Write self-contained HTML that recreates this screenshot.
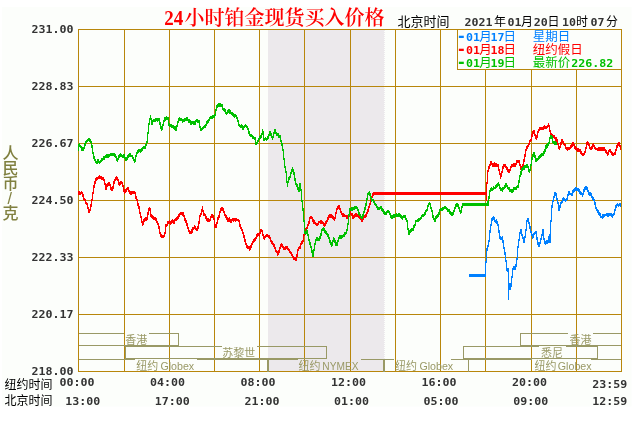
<!DOCTYPE html>
<html lang="zh-CN"><head><meta charset="utf-8"><title>24小时铂金现货买入价格</title>
<style>html,body{margin:0;padding:0;background:#fff;}body{width:640px;height:428px;overflow:hidden;}svg{display:block;}.n{font-family:"DejaVu Sans Mono","Liberation Mono","Noto Sans CJK SC",monospace;font-weight:bold;font-size:11px;fill:#333333;}.c{font-family:"Liberation Sans","Noto Sans CJK SC",sans-serif;font-size:12px;font-weight:normal;letter-spacing:0;}.t{font-family:"Liberation Serif","Noto Serif CJK SC",serif;font-weight:bold;font-size:20px;fill:#ff0000;}</style></head><body>
<svg width="640" height="428" viewBox="0 0 640 428">
<rect x="0" y="0" width="640" height="428" fill="#ffffff"/>
<rect x="2" y="7" width="629.5" height="399.5" fill="#fcfefb"/>
<rect x="268" y="30" width="116" height="341" fill="#ece9ec"/>
<path d="M384.5 30V371" stroke="#ece9ec" stroke-width="1" stroke-dasharray="1 1" fill="none" shape-rendering="crispEdges"/>
<g shape-rendering="crispEdges">
<rect x="78" y="29" width="1" height="343" fill="#b8860b"/>
<rect x="124" y="29" width="1" height="343" fill="#b8860b"/>
<rect x="169" y="29" width="1" height="343" fill="#b8860b"/>
<rect x="214" y="29" width="1" height="343" fill="#b8860b"/>
<rect x="259" y="29" width="1" height="343" fill="#b8860b"/>
<rect x="304" y="29" width="1" height="343" fill="#b8860b"/>
<rect x="350" y="29" width="1" height="343" fill="#b8860b"/>
<rect x="395" y="29" width="1" height="343" fill="#b8860b"/>
<rect x="440" y="29" width="1" height="343" fill="#b8860b"/>
<rect x="485" y="29" width="1" height="343" fill="#b8860b"/>
<rect x="531" y="29" width="1" height="343" fill="#b8860b"/>
<rect x="576" y="29" width="1" height="343" fill="#b8860b"/>
<rect x="621" y="29" width="1" height="343" fill="#b8860b"/>
<rect x="78" y="29" width="544" height="1" fill="#b8860b"/>
<rect x="78" y="86" width="544" height="1" fill="#b8860b"/>
<rect x="78" y="143" width="544" height="1" fill="#b8860b"/>
<rect x="78" y="200" width="544" height="1" fill="#b8860b"/>
<rect x="78" y="257" width="544" height="1" fill="#b8860b"/>
<rect x="78" y="314" width="544" height="1" fill="#b8860b"/>
<rect x="78" y="371" width="544" height="1" fill="#b8860b"/>
<rect x="458" y="30" width="163" height="39" fill="#fcfefb"/>
<rect x="457" y="29" width="1" height="41" fill="#b8860b"/>
<rect x="457" y="69" width="165" height="1" fill="#b8860b"/>
<rect x="79" y="333" width="45" height="1" fill="#999966"/>
<rect x="149" y="333" width="30" height="1" fill="#999966"/>
<rect x="178" y="333" width="1" height="13" fill="#999966"/>
<rect x="79" y="345" width="100" height="1" fill="#999966"/>
<rect x="125" y="346" width="1" height="13" fill="#999966"/>
<rect x="125" y="346" width="97" height="1" fill="#999966"/>
<rect x="257" y="346" width="70" height="1" fill="#999966"/>
<rect x="326" y="346" width="1" height="13" fill="#999966"/>
<rect x="125" y="358" width="202" height="1" fill="#999966"/>
<rect x="79" y="359" width="56" height="1" fill="#999966"/>
<rect x="197" y="359" width="71" height="1" fill="#999966"/>
<rect x="267" y="359" width="2" height="13" fill="#999966"/>
<rect x="268" y="359" width="30" height="1" fill="#999966"/>
<rect x="361" y="359" width="24" height="1" fill="#999966"/>
<rect x="383" y="359" width="1" height="13" fill="#999966"/>
<rect x="384" y="359" width="1" height="13" fill="#999966"/>
<rect x="384" y="359" width="10" height="1" fill="#999966"/>
<rect x="451" y="359" width="18" height="1" fill="#999966"/>
<rect x="468" y="359" width="1" height="13" fill="#999966"/>
<rect x="463" y="346" width="1" height="13" fill="#999966"/>
<rect x="463" y="346" width="76" height="1" fill="#999966"/>
<rect x="566" y="346" width="32" height="1" fill="#999966"/>
<rect x="597" y="346" width="1" height="13" fill="#999966"/>
<rect x="463" y="358" width="135" height="1" fill="#999966"/>
<rect x="520" y="333" width="1" height="13" fill="#999966"/>
<rect x="520" y="333" width="48" height="1" fill="#999966"/>
<rect x="593" y="333" width="28" height="1" fill="#999966"/>
<rect x="520" y="345" width="101" height="1" fill="#999966"/>
<rect x="468" y="359" width="64" height="1" fill="#999966"/>
<rect x="591" y="359" width="30" height="1" fill="#999966"/>
<path d="M485.5 261v15M486.5 248v15M487.5 245v6M488.5 240v7M489.5 230v12M490.5 224v9M491.5 218v8M492.5 217v4M493.5 216v4M494.5 217v5M495.5 220v3M496.5 219v5M497.5 221v5M498.5 224v9M499.5 230v9M500.5 236v4M501.5 237v3M502.5 236v7M503.5 240v9M504.5 247v8M505.5 252v10M506.5 260v11M507.5 268v4M508.5 268v32M509.5 283v7M510.5 283v7M511.5 276v11M512.5 268v10M513.5 266v4M514.5 266v4M515.5 264v6M516.5 258v9M517.5 246v14M518.5 239v9M519.5 232v9M520.5 229v5M521.5 229v7M522.5 234v5M523.5 237v6M524.5 236v7M525.5 229v9M526.5 220v11M527.5 218v4M528.5 218v6M529.5 222v7M530.5 226v7M531.5 231v5M532.5 234v5M533.5 233v5M534.5 232v3M535.5 231v3M536.5 231v9M537.5 237v8M538.5 242v5M539.5 242v5M540.5 238v6M541.5 234v6M542.5 229v7M543.5 229v11M544.5 238v6M545.5 241v4M546.5 240v4M547.5 240v4M548.5 236v7M549.5 234v9M550.5 220v23M551.5 205v17M552.5 200v8M553.5 196v6M554.5 192v6M555.5 192v4M556.5 193v7M557.5 198v6M558.5 202v9M559.5 205v6M560.5 202v6M561.5 201v3M562.5 198v5M563.5 197v4M564.5 198v3M565.5 199v3M566.5 198v3M567.5 194v6M568.5 191v5M569.5 191v4M570.5 193v2M571.5 193v3M572.5 190v6M573.5 189v4M574.5 188v4M575.5 187v4M576.5 187v4M577.5 188v3M578.5 188v4M579.5 189v5M580.5 191v4M581.5 192v3M582.5 193v4M583.5 189v6M584.5 187v5M585.5 186v4M586.5 186v4M587.5 187v5M588.5 190v5M589.5 192v4M590.5 192v4M591.5 193v5M592.5 196v4M593.5 197v4M594.5 199v6M595.5 202v7M596.5 207v4M597.5 209v4M598.5 210v5M599.5 212v4M600.5 213v5M601.5 216v2M602.5 214v5M603.5 214v4M604.5 214v3M605.5 214v2M606.5 213v3M607.5 213v4M608.5 213v4M609.5 213v3M610.5 213v3M611.5 213v4M612.5 214v4M613.5 213v3M614.5 209v6M615.5 205v6M616.5 204v4M617.5 203v3M618.5 204v3M619.5 203v3M620.5 203v4M621.5 203v4" fill="none" stroke="#0080ff" stroke-width="1"/>
<rect x="469" y="274" width="17" height="3" fill="#0080ff"/>
<path d="M78.5 191v4M79.5 191v4M80.5 192v3M81.5 191v3M82.5 192v5M83.5 194v6M84.5 198v3M85.5 199v5M86.5 202v3M87.5 203v6M88.5 207v6M89.5 209v4M90.5 204v7M91.5 199v8M92.5 192v9M93.5 185v9M94.5 181v7M95.5 178v6M96.5 177v4M97.5 177v3M98.5 176v3M99.5 175v4M100.5 176v3M101.5 176v4M102.5 177v3M103.5 177v4M104.5 179v6M105.5 183v7M106.5 184v6M107.5 183v4M108.5 182v4M109.5 182v4M110.5 184v6M111.5 187v4M112.5 186v5M113.5 181v8M114.5 179v5M115.5 177v4M116.5 176v4M117.5 177v4M118.5 179v6M119.5 182v4M120.5 181v4M121.5 181v3M122.5 182v5M123.5 185v7M124.5 189v5M125.5 189v4M126.5 188v4M127.5 187v3M128.5 187v5M129.5 190v4M130.5 191v4M131.5 191v4M132.5 191v3M133.5 191v3M134.5 191v3M135.5 192v7M136.5 196v5M137.5 199v7M138.5 203v6M139.5 206v8M140.5 212v6M141.5 216v7M142.5 221v5M143.5 219v6M144.5 218v4M145.5 217v4M146.5 217v4M147.5 212v8M148.5 208v7M149.5 207v4M150.5 208v9M151.5 214v4M152.5 215v4M153.5 216v4M154.5 217v3M155.5 217v4M156.5 218v5M157.5 221v4M158.5 223v6M159.5 226v8M160.5 232v5M161.5 234v4M162.5 235v3M163.5 235v3M164.5 232v5M165.5 224v10M166.5 224v3M167.5 221v5M168.5 221v3M169.5 220v4M170.5 221v4M171.5 220v4M172.5 219v4M173.5 220v4M174.5 219v5M175.5 218v3M176.5 217v4M177.5 216v4M178.5 214v5M179.5 213v4M180.5 212v3M181.5 212v3M182.5 212v4M183.5 212v5M184.5 215v6M185.5 218v5M186.5 220v6M187.5 223v6M188.5 227v5M189.5 230v4M190.5 231v3M191.5 229v5M192.5 227v6M193.5 227v3M194.5 225v4M195.5 226v4M196.5 228v3M197.5 226v5M198.5 221v8M199.5 215v9M200.5 213v4M201.5 209v6M202.5 206v6M203.5 210v6M204.5 213v3M205.5 214v5M206.5 216v5M207.5 218v4M208.5 218v4M209.5 219v3M210.5 216v5M211.5 214v4M212.5 214v4M213.5 215v5M214.5 218v10M215.5 224v4M216.5 222v6M217.5 217v7M218.5 215v5M219.5 211v7M220.5 208v5M221.5 207v4M222.5 207v4M223.5 208v5M224.5 211v5M225.5 214v4M226.5 215v5M227.5 217v5M228.5 218v4M229.5 217v5M230.5 219v4M231.5 219v4M232.5 218v3M233.5 218v4M234.5 218v3M235.5 218v4M236.5 218v3M237.5 219v2M238.5 219v3M239.5 220v7M240.5 224v5M241.5 227v4M242.5 229v5M243.5 232v6M244.5 235v7M245.5 239v6M246.5 243v5M247.5 245v4M248.5 246v3M249.5 246v5M250.5 245v5M251.5 243v5M252.5 241v4M253.5 239v4M254.5 238v4M255.5 237v4M256.5 234v5M257.5 233v4M258.5 233v3M259.5 232v5M260.5 229v5M261.5 229v3M262.5 230v6M263.5 234v5M264.5 236v4M265.5 235v3M266.5 234v3M267.5 234v3M268.5 235v3M269.5 235v4M270.5 237v5M271.5 240v4M272.5 241v4M273.5 243v4M274.5 244v5M275.5 247v5M276.5 250v3M277.5 251v5M278.5 250v5M279.5 247v6M280.5 244v5M281.5 243v4M282.5 244v4M283.5 246v4M284.5 247v3M285.5 246v4M286.5 246v3M287.5 246v4M288.5 248v3M289.5 249v4M290.5 251v3M291.5 252v4M292.5 254v4M293.5 256v4M294.5 257v3M295.5 257v4M296.5 254v7M297.5 249v8M298.5 247v4M299.5 246v3M300.5 243v6M301.5 241v4M302.5 240v4M303.5 234v8M304.5 230v6M305.5 228v5M306.5 227v4M307.5 224v5M308.5 221v5M309.5 217v7M310.5 216v3M311.5 216v3M312.5 217v5M313.5 219v5M314.5 220v4M315.5 222v3M316.5 223v3M317.5 223v3M318.5 221v4M319.5 221v2M320.5 220v4M321.5 220v4M322.5 221v3M323.5 222v4M324.5 223v4M325.5 221v5M326.5 220v4M327.5 217v5M328.5 215v5M329.5 214v4M330.5 214v4M331.5 214v4M332.5 215v4M333.5 216v4M334.5 217v4M335.5 212v7M336.5 208v6M337.5 206v4M338.5 205v4M339.5 205v5M340.5 208v5M341.5 211v4M342.5 213v4M343.5 213v4M344.5 214v3M345.5 215v2M346.5 215v4M347.5 215v4M348.5 214v3M349.5 212v5M350.5 211v4M351.5 213v3M352.5 213v6M353.5 215v4M354.5 214v4M355.5 213v4M356.5 213v4M357.5 214v3M358.5 215v3M359.5 215v4M360.5 216v4M361.5 218v4M362.5 217v5M363.5 216v4M364.5 215v3M365.5 214v4M366.5 212v5M367.5 209v5M368.5 206v6M369.5 203v5M370.5 199v6M371.5 196v5M372.5 193v5M373.5 192v4" fill="none" stroke="#ff0000" stroke-width="1"/>
<rect x="373" y="192" width="114" height="3" fill="#ff0000"/>
<path d="M486.5 182v19M487.5 170v14M488.5 166v6M489.5 164v5M490.5 161v5M491.5 161v4M492.5 163v4M493.5 163v4M494.5 162v5M495.5 163v4M496.5 163v4M497.5 164v3M498.5 164v7M499.5 169v6M500.5 173v6M501.5 171v6M502.5 166v7M503.5 164v5M504.5 164v3M505.5 164v4M506.5 166v4M507.5 167v5M508.5 169v4M509.5 169v4M510.5 166v5M511.5 164v4M512.5 164v3M513.5 163v4M514.5 163v4M515.5 163v4M516.5 160v5M517.5 160v3M518.5 160v3M519.5 160v6M520.5 164v6M521.5 166v4M522.5 164v5M523.5 159v7M524.5 154v8M525.5 149v8M526.5 146v5M527.5 145v4M528.5 143v4M529.5 140v5M530.5 139v3M531.5 134v7M532.5 131v6M533.5 130v4M534.5 130v6M535.5 134v5M536.5 135v5M537.5 131v7M538.5 129v4M539.5 127v4M540.5 127v3M541.5 127v3M542.5 127v3M543.5 126v4M544.5 125v4M545.5 126v3M546.5 126v3M547.5 125v3M548.5 123v4M549.5 125v7M550.5 130v6M551.5 133v3M552.5 134v4M553.5 135v3M554.5 135v4M555.5 137v4M556.5 137v5M557.5 139v6M558.5 143v6M559.5 146v4M560.5 142v6M561.5 139v6M562.5 139v4M563.5 141v4M564.5 143v3M565.5 144v5M566.5 147v3M567.5 147v4M568.5 147v3M569.5 147v3M570.5 145v4M571.5 144v4M572.5 142v5M573.5 142v4M574.5 144v5M575.5 146v4M576.5 147v4M577.5 148v4M578.5 148v4M579.5 149v3M580.5 149v5M581.5 151v4M582.5 153v3M583.5 153v3M584.5 151v4M585.5 147v6M586.5 142v7M587.5 141v4M588.5 142v4M589.5 144v5M590.5 147v3M591.5 146v4M592.5 144v5M593.5 143v4M594.5 145v4M595.5 147v3M596.5 148v2M597.5 148v3M598.5 147v4M599.5 147v4M600.5 147v4M601.5 147v4M602.5 147v4M603.5 147v4M604.5 147v4M605.5 149v4M606.5 150v4M607.5 152v4M608.5 150v5M609.5 149v3M610.5 149v4M611.5 151v4M612.5 152v4M613.5 153v3M614.5 152v3M615.5 149v6M616.5 145v6M617.5 143v5M618.5 142v4M619.5 142v5M620.5 145v5M621.5 146v4" fill="none" stroke="#ff0000" stroke-width="1"/>
<path d="M78.5 144v7M79.5 143v4M80.5 145v3M81.5 146v5M82.5 147v4M83.5 147v4M84.5 143v6M85.5 141v5M86.5 140v3M87.5 139v3M88.5 138v3M89.5 138v4M90.5 139v4M91.5 141v7M92.5 145v9M93.5 152v7M94.5 156v5M95.5 159v4M96.5 161v3M97.5 159v5M98.5 159v4M99.5 161v3M100.5 160v3M101.5 158v4M102.5 158v3M103.5 156v4M104.5 156v4M105.5 155v3M106.5 154v4M107.5 154v4M108.5 154v4M109.5 154v3M110.5 153v3M111.5 153v3M112.5 153v3M113.5 153v3M114.5 153v4M115.5 154v4M116.5 156v5M117.5 158v4M118.5 155v5M119.5 154v4M120.5 153v4M121.5 154v3M122.5 155v3M123.5 154v4M124.5 154v5M125.5 157v4M126.5 157v4M127.5 155v5M128.5 154v4M129.5 153v4M130.5 153v4M131.5 155v2M132.5 155v4M133.5 157v4M134.5 159v4M135.5 155v7M136.5 152v5M137.5 150v4M138.5 149v4M139.5 149v3M140.5 149v4M141.5 148v4M142.5 147v4M143.5 146v3M144.5 146v3M145.5 144v5M146.5 141v5M147.5 132v11M148.5 123v11M149.5 118v7M150.5 115v5M151.5 118v7M152.5 120v5M153.5 119v3M154.5 119v3M155.5 118v4M156.5 118v3M157.5 118v4M158.5 118v3M159.5 118v7M160.5 122v7M161.5 126v5M162.5 124v6M163.5 120v6M164.5 117v5M165.5 117v4M166.5 116v4M167.5 117v3M168.5 117v9M169.5 123v4M170.5 124v3M171.5 124v4M172.5 125v3M173.5 125v4M174.5 126v4M175.5 126v5M176.5 125v6M177.5 121v6M178.5 118v5M179.5 117v4M180.5 118v3M181.5 118v3M182.5 119v4M183.5 119v3M184.5 118v4M185.5 118v3M186.5 117v4M187.5 117v4M188.5 119v4M189.5 119v4M190.5 120v5M191.5 121v4M192.5 121v3M193.5 121v4M194.5 121v4M195.5 120v5M196.5 119v3M197.5 119v4M198.5 120v3M199.5 120v8M200.5 126v5M201.5 128v3M202.5 127v3M203.5 126v3M204.5 125v3M205.5 124v4M206.5 121v5M207.5 120v4M208.5 119v4M209.5 117v4M210.5 116v3M211.5 116v3M212.5 115v4M213.5 115v3M214.5 114v4M215.5 109v7M216.5 105v6M217.5 104v4M218.5 103v4M219.5 103v4M220.5 103v4M221.5 104v3M222.5 104v6M223.5 108v3M224.5 108v4M225.5 109v5M226.5 112v3M227.5 110v4M228.5 109v4M229.5 109v5M230.5 110v4M231.5 112v3M232.5 112v4M233.5 113v4M234.5 114v4M235.5 114v3M236.5 115v4M237.5 117v5M238.5 120v6M239.5 124v3M240.5 125v3M241.5 124v4M242.5 125v5M243.5 126v4M244.5 125v3M245.5 124v3M246.5 125v3M247.5 126v4M248.5 128v6M249.5 131v5M250.5 134v3M251.5 134v3M252.5 135v4M253.5 136v3M254.5 137v3M255.5 137v8M256.5 142v3M257.5 140v4M258.5 138v4M259.5 136v4M260.5 135v4M261.5 133v5M262.5 129v6M263.5 131v10M264.5 138v3M265.5 137v3M266.5 138v3M267.5 136v4M268.5 134v5M269.5 131v5M270.5 131v5M271.5 133v5M272.5 136v4M273.5 132v6M274.5 129v5M275.5 129v5M276.5 132v4M277.5 133v3M278.5 133v5M279.5 135v3M280.5 135v7M281.5 140v6M282.5 143v8M283.5 149v11M284.5 158v10M285.5 166v7M286.5 171v12M287.5 181v6M288.5 177v6M289.5 176v4M290.5 172v6M291.5 169v5M292.5 167v5M293.5 169v6M294.5 172v9M295.5 178v7M296.5 183v4M297.5 184v6M298.5 187v5M299.5 183v9M300.5 183v8M301.5 189v13M302.5 200v11M303.5 208v14M304.5 220v14M305.5 231v4M306.5 229v5M307.5 230v6M308.5 234v7M309.5 239v6M310.5 242v6M311.5 246v7M312.5 250v7M313.5 249v8M314.5 243v8M315.5 239v6M316.5 237v4M317.5 237v4M318.5 238v3M319.5 236v5M320.5 233v6M321.5 229v7M322.5 228v3M323.5 227v4M324.5 228v5M325.5 230v4M326.5 231v4M327.5 233v4M328.5 234v5M329.5 237v6M330.5 240v5M331.5 242v5M332.5 240v6M333.5 237v5M334.5 238v5M335.5 240v6M336.5 242v4M337.5 240v6M338.5 237v5M339.5 235v4M340.5 235v4M341.5 235v4M342.5 235v3M343.5 234v3M344.5 232v5M345.5 232v3M346.5 229v5M347.5 223v8M348.5 214v11M349.5 208v8M350.5 208v3M351.5 207v4M352.5 207v4M353.5 207v3M354.5 206v4M355.5 206v3M356.5 206v3M357.5 207v4M358.5 209v6M359.5 212v4M360.5 214v4M361.5 216v3M362.5 214v5M363.5 211v6M364.5 207v6M365.5 203v7M366.5 198v8M367.5 193v7M368.5 192v3M369.5 191v5M370.5 193v6M371.5 197v5M372.5 199v2M373.5 199v4M374.5 201v4M375.5 203v3M376.5 204v4M377.5 206v4M378.5 207v3M379.5 207v3M380.5 206v3M381.5 206v5M382.5 208v4M383.5 209v5M384.5 211v4M385.5 212v3M386.5 211v4M387.5 210v3M388.5 210v3M389.5 211v4M390.5 213v5M391.5 215v4M392.5 215v4M393.5 214v4M394.5 214v4M395.5 214v3M396.5 213v4M397.5 214v3M398.5 213v4M399.5 213v4M400.5 214v4M401.5 215v4M402.5 216v4M403.5 215v3M404.5 215v3M405.5 215v5M406.5 218v4M407.5 220v10M408.5 228v7M409.5 230v5M410.5 229v4M411.5 228v4M412.5 228v3M413.5 225v6M414.5 224v4M415.5 220v6M416.5 220v2M417.5 219v3M418.5 218v4M419.5 218v3M420.5 217v3M421.5 215v4M422.5 214v3M423.5 214v3M424.5 212v4M425.5 210v5M426.5 209v3M427.5 205v6M428.5 203v4M429.5 202v3M430.5 203v6M431.5 207v5M432.5 210v8M433.5 215v5M434.5 218v4M435.5 216v6M436.5 215v4M437.5 214v4M438.5 212v5M439.5 209v6M440.5 208v3M441.5 208v3M442.5 207v4M443.5 207v3M444.5 206v3M445.5 206v3M446.5 207v3M447.5 208v4M448.5 209v3M449.5 209v5M450.5 211v4M451.5 212v4M452.5 212v4M453.5 210v5M454.5 207v5M455.5 204v5M456.5 203v4M457.5 203v4M458.5 204v5M459.5 207v5M460.5 210v4M461.5 206v7M462.5 203v5" fill="none" stroke="#00c000" stroke-width="1"/>
<rect x="462" y="203" width="27" height="3" fill="#00c000"/>
<path d="M487.5 201v5M488.5 196v7M489.5 190v9M490.5 188v4M491.5 187v4M492.5 188v3M493.5 186v4M494.5 187v2M495.5 185v4M496.5 184v4M497.5 183v4M498.5 182v4M499.5 184v5M500.5 187v4M501.5 188v3M502.5 187v5M503.5 187v3M504.5 185v4M505.5 183v5M506.5 183v4M507.5 185v4M508.5 187v3M509.5 187v5M510.5 189v3M511.5 189v4M512.5 189v4M513.5 187v5M514.5 187v3M515.5 187v3M516.5 186v4M517.5 185v3M518.5 180v8M519.5 175v8M520.5 171v6M521.5 168v7M522.5 167v4M523.5 166v4M524.5 165v5M525.5 165v3M526.5 164v4M527.5 164v4M528.5 166v6M529.5 169v4M530.5 164v7M531.5 157v9M532.5 154v6M533.5 152v5M534.5 152v6M535.5 155v7M536.5 158v4M537.5 158v3M538.5 156v4M539.5 155v4M540.5 154v4M541.5 153v4M542.5 153v3M543.5 151v5M544.5 149v5M545.5 145v7M546.5 144v5M547.5 143v5M548.5 142v4M549.5 137v7M550.5 135v4M551.5 135v4M552.5 136v7M553.5 141v3M554.5 141v4M555.5 141v4M556.5 142v3" fill="none" stroke="#00c000" stroke-width="1"/>
<rect x="621" y="29" width="1" height="343" fill="#b8860b"/>
</g>
<text y="25.3" class="t"><tspan x="164.3" textLength="19" lengthAdjust="spacingAndGlyphs">24</tspan><tspan x="184.6" style="font-weight:600">小时铂金现货买入价格</tspan></text>
<text x="31.5" y="33" class="n" textLength="42" lengthAdjust="spacingAndGlyphs">231.00</text>
<text x="31.5" y="90" class="n" textLength="42" lengthAdjust="spacingAndGlyphs">228.83</text>
<text x="31.5" y="147" class="n" textLength="42" lengthAdjust="spacingAndGlyphs">226.67</text>
<text x="31.5" y="204" class="n" textLength="42" lengthAdjust="spacingAndGlyphs">224.50</text>
<text x="31.5" y="261" class="n" textLength="42" lengthAdjust="spacingAndGlyphs">222.33</text>
<text x="31.5" y="318" class="n" textLength="42" lengthAdjust="spacingAndGlyphs">220.17</text>
<text x="31.5" y="375" class="n" textLength="42" lengthAdjust="spacingAndGlyphs">218.00</text>
<text x="59.6" y="386" class="n" textLength="35" lengthAdjust="spacingAndGlyphs">00:00</text>
<text x="150.1" y="386" class="n" textLength="35" lengthAdjust="spacingAndGlyphs">04:00</text>
<text x="240.6" y="386" class="n" textLength="35" lengthAdjust="spacingAndGlyphs">08:00</text>
<text x="331.1" y="386" class="n" textLength="35" lengthAdjust="spacingAndGlyphs">12:00</text>
<text x="421.6" y="386" class="n" textLength="35" lengthAdjust="spacingAndGlyphs">16:00</text>
<text x="512.1" y="386" class="n" textLength="35" lengthAdjust="spacingAndGlyphs">20:00</text>
<text x="592.2" y="388" class="n" textLength="35" lengthAdjust="spacingAndGlyphs">23:59</text>
<text x="65.2" y="405" class="n" textLength="35" lengthAdjust="spacingAndGlyphs">13:00</text>
<text x="154.8" y="405" class="n" textLength="35" lengthAdjust="spacingAndGlyphs">17:00</text>
<text x="244.4" y="405" class="n" textLength="35" lengthAdjust="spacingAndGlyphs">21:00</text>
<text x="334.0" y="405" class="n" textLength="35" lengthAdjust="spacingAndGlyphs">01:00</text>
<text x="423.6" y="405" class="n" textLength="35" lengthAdjust="spacingAndGlyphs">05:00</text>
<text x="513.2" y="405" class="n" textLength="35" lengthAdjust="spacingAndGlyphs">09:00</text>
<text x="592.2" y="405" class="n" textLength="35" lengthAdjust="spacingAndGlyphs">12:59</text>
<text x="4.5" y="389" class="c" fill="#000" textLength="48" lengthAdjust="spacing">纽约时间</text>
<text x="4.5" y="405" class="c" fill="#000" textLength="48" lengthAdjust="spacing">北京时间</text>
<text x="397.5" y="26" class="c" fill="#000" style="font-size:13px" textLength="52" lengthAdjust="spacing">北京时间</text>
<text y="26" class="n"><tspan x="464.5" textLength="28" lengthAdjust="spacingAndGlyphs">2021</tspan><tspan x="494" class="c" fill="#000">年</tspan><tspan x="507.5" textLength="14" lengthAdjust="spacingAndGlyphs">01</tspan><tspan x="521" class="c" fill="#000">月</tspan><tspan x="533.8" textLength="14" lengthAdjust="spacingAndGlyphs">20</tspan><tspan x="547.5" class="c" fill="#000">日</tspan><tspan x="562" textLength="14" lengthAdjust="spacingAndGlyphs">10</tspan><tspan x="576" class="c" fill="#000">时</tspan><tspan x="590.5" textLength="14" lengthAdjust="spacingAndGlyphs">07</tspan><tspan x="606" class="c" fill="#000">分</tspan></text>
<text y="41.2" class="n" style="fill:#0080ff"><tspan x="456.6" style="font-size:16px">-</tspan><tspan x="466" textLength="14" lengthAdjust="spacingAndGlyphs">01</tspan><tspan x="479.3" class="c" style="font-size:12.5px">月</tspan><tspan x="490.6" textLength="14" lengthAdjust="spacingAndGlyphs">17</tspan><tspan x="503.4" class="c" style="font-size:12.5px">日</tspan><tspan x="532.8" class="c" style="font-size:12.5px">星期日</tspan></text>
<text y="53.8" class="n" style="fill:#ff0000"><tspan x="456.6" style="font-size:16px">-</tspan><tspan x="466" textLength="14" lengthAdjust="spacingAndGlyphs">01</tspan><tspan x="479.3" class="c" style="font-size:12.5px">月</tspan><tspan x="490.6" textLength="14" lengthAdjust="spacingAndGlyphs">18</tspan><tspan x="503.4" class="c" style="font-size:12.5px">日</tspan><tspan x="532.8" class="c" style="font-size:12.5px">纽约假日</tspan></text>
<text y="67.0" class="n" style="fill:#00c000"><tspan x="456.6" style="font-size:16px">-</tspan><tspan x="466" textLength="14" lengthAdjust="spacingAndGlyphs">01</tspan><tspan x="479.3" class="c" style="font-size:12.5px">月</tspan><tspan x="490.6" textLength="14" lengthAdjust="spacingAndGlyphs">19</tspan><tspan x="503.4" class="c" style="font-size:12.5px">日</tspan><tspan x="532.8" class="c" style="font-size:12.5px">最新价</tspan><tspan x="571.3" textLength="42" lengthAdjust="spacingAndGlyphs">226.82</tspan></text>
<text y="343.6" class="c" style="font-size:11px" fill="#999966"><tspan x="125.2">香港</tspan></text>
<text y="356.6" class="c" style="font-size:11px" fill="#999966"><tspan x="222.3">苏黎世</tspan></text>
<text y="369.7" class="c" style="font-size:11px" fill="#999966"><tspan x="136.2">纽约</tspan><tspan x="160.4" textLength="33.8" lengthAdjust="spacingAndGlyphs">Globex</tspan></text>
<text y="369.7" class="c" style="font-size:11px" fill="#999966"><tspan x="298.5">纽约</tspan><tspan x="322.3" textLength="36.2" lengthAdjust="spacingAndGlyphs">NYMEX</tspan></text>
<text y="369.7" class="c" style="font-size:11px" fill="#999966"><tspan x="395.0">纽约</tspan><tspan x="419.4" textLength="33.8" lengthAdjust="spacingAndGlyphs">Globex</tspan></text>
<text y="356.6" class="c" style="font-size:11px" fill="#999966"><tspan x="541.0">悉尼</tspan></text>
<text y="343.6" class="c" style="font-size:11px" fill="#999966"><tspan x="569.6">香港</tspan></text>
<text y="369.7" class="c" style="font-size:11px" fill="#999966"><tspan x="534.6">纽约</tspan><tspan x="557.8" textLength="33.8" lengthAdjust="spacingAndGlyphs">Globex</tspan></text>
<text style="font-family:'Liberation Sans','Noto Sans CJK SC',sans-serif;font-size:16px;font-weight:500;fill:#808040"><tspan x="2.5" y="158.5">人</tspan><tspan x="2.5" y="173.5">民</tspan><tspan x="2.5" y="188.5">币</tspan><tspan x="7.5" y="203.5">/</tspan><tspan x="2.5" y="218.5">克</tspan></text>
</svg></body></html>
